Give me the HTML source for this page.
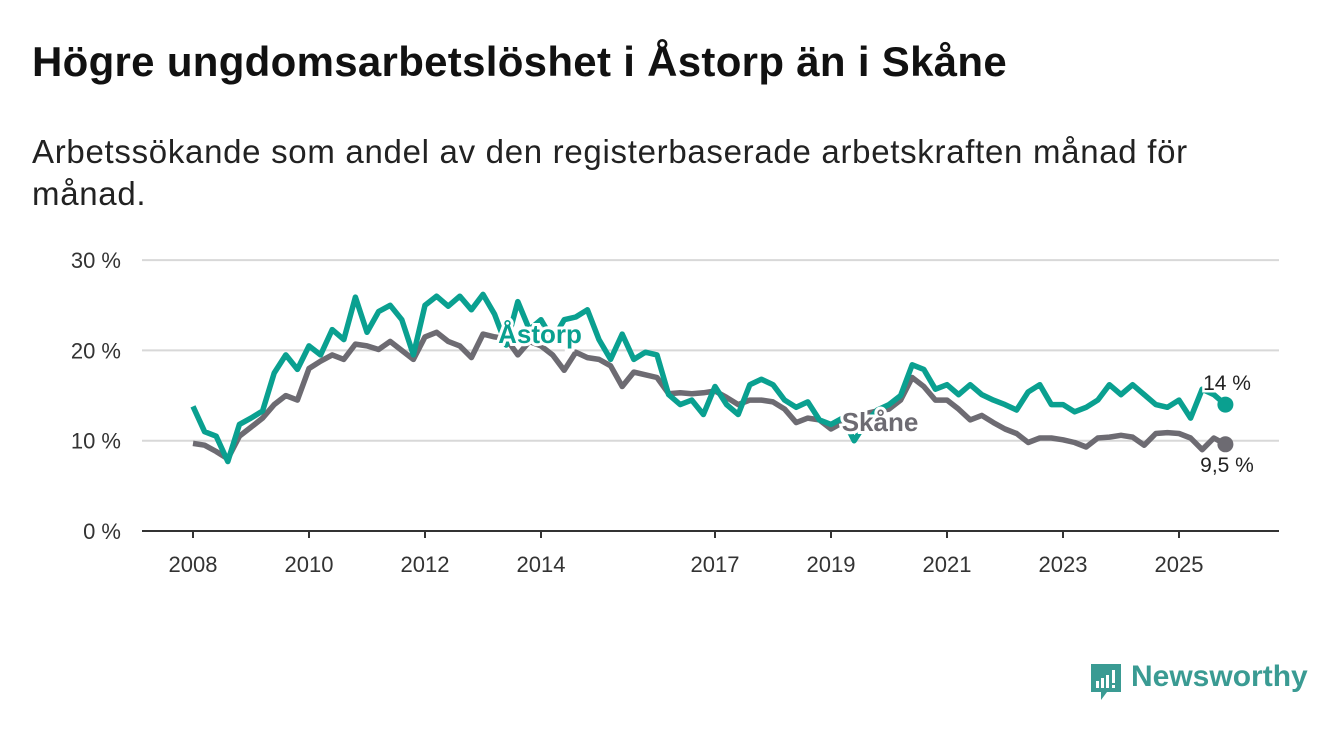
<!DOCTYPE html>
<html><head><meta charset="utf-8">
<style>
body{margin:0;background:#fff;font-family:"Liberation Sans",sans-serif;}
#wrap{position:relative;width:1340px;height:734px;overflow:hidden;}
h1{position:absolute;left:32px;top:38px;margin:0;font-size:42px;font-weight:bold;color:#111;letter-spacing:0.3px;}
.sub{position:absolute;left:32px;top:131px;margin:0;font-size:33px;line-height:42px;color:#222;width:1210px;letter-spacing:0.7px;}
svg{position:absolute;left:0;top:0;}
</style></head><body>
<div id="wrap">
<h1>Högre ungdomsarbetslöshet i Åstorp än i Skåne</h1>
<p class="sub">Arbetssökande som andel av den registerbaserade arbetskraften månad för månad.</p>
<svg id="chart" width="1340" height="734"></svg>
<div style="position:absolute;left:1089px;top:662px;width:230px;height:40px;">
<svg width="36" height="44" style="position:absolute;left:0;top:0">
<path d="M2 2h30v28h-14l-6 8v-8h-10z" fill="#3a9b93"/>
<rect x="7" y="19" width="3" height="7" fill="#fff"/><rect x="12" y="16" width="3" height="10" fill="#fff"/><rect x="17" y="13" width="3" height="13" fill="#fff"/><rect x="23" y="8" width="3" height="13" fill="#fff"/><rect x="23" y="23" width="3" height="3" fill="#fff"/>
</svg>
<span style="position:absolute;left:42px;top:-2px;font-size:30px;color:#3a9b93;font-weight:bold;">Newsworthy</span>
</div>
</div>
<script>
const startYear = 2008;
const stepYears = 0.2;
const astorp = [13.8,11,10.5,7.7,11.8,12.5,13.3,17.5,19.5,17.9,20.5,19.5,22.3,21.2,25.9,22,24.3,25,23.4,19.5,25,26,24.9,26,24.5,26.2,24,20.6,25.4,22.3,23.4,21.2,23.4,23.7,24.5,21.2,19,21.8,19,19.8,19.5,15.1,14,14.5,12.9,16,14,12.9,16.2,16.8,16.2,14.5,13.7,14.3,12.3,11.8,12.5,10,12,13.4,14,15,18.4,17.9,15.7,16.2,15.1,16.2,15.1,14.5,14,13.4,15.4,16.2,14,14,13.2,13.7,14.5,16.2,15.1,16.2,15.1,14,13.7,14.5,12.5,15.7,15.1,14];
const skane = [9.7,9.5,8.8,8.0,10.5,11.5,12.5,14,15,14.5,18,18.8,19.5,19,20.7,20.5,20.1,21,20,19,21.5,22,21,20.5,19.2,21.8,21.5,21.3,19.5,21,20.5,19.5,17.8,19.8,19.2,19,18.3,16,17.6,17.3,17,15.2,15.3,15.2,15.3,15.5,14.8,14,14.5,14.5,14.3,13.5,12,12.5,12.3,11.3,12,12.5,13,13.3,13.5,14.5,17,16,14.5,14.5,13.5,12.3,12.8,12,11.3,10.8,9.8,10.3,10.3,10.1,9.8,9.3,10.3,10.4,10.6,10.4,9.5,10.8,10.9,10.8,10.3,9,10.3,9.6];
const yTicks = [0,10,20,30];
const yTickLabels = ["0 %","10 %","20 %","30 %"];
const xTicks = [2008,2010,2012,2014,2017,2019,2021,2023,2025];

const NS="http://www.w3.org/2000/svg";
const svg=document.getElementById('chart');
const X=yr=>193+(yr-2008)*58;
const Y=v=>531-v*9.03;
function mk(tag,attrs){const e=document.createElementNS(NS,tag);for(const k in attrs)e.setAttribute(k,attrs[k]);svg.appendChild(e);return e;}
yTicks.forEach((t,i)=>{
  const l=mk('line',{x1:142,x2:1279,y1:Y(t),y2:Y(t),stroke:t===0?'#333':'#d8d8d8','stroke-width':2});
  
  
  const tx=mk('text',{x:121,y:Y(t)+8,'text-anchor':'end','font-size':22,fill:'#333','font-family':'Liberation Sans, sans-serif'});
  tx.textContent=yTickLabels[i];
  
  
});
xTicks.forEach(t=>{
  const l=mk('line',{x1:X(t),x2:X(t),y1:531,y2:538,stroke:'#333','stroke-width':2});
  
  
  const tx=mk('text',{x:X(t),y:572,'text-anchor':'middle','font-size':22,fill:'#333','font-family':'Liberation Sans, sans-serif'});
  tx.textContent=t;
  
  
});
function line(arr,color,name){
  const pts=arr.map((v,i)=>X(startYear+i*stepYears).toFixed(1)+','+Y(v).toFixed(1)).join(' ');
  const p=mk('polyline',{points:pts,fill:'none',stroke:color,'stroke-width':5.5,'stroke-linejoin':'round'});
  
  
  const n=arr.length-1;
  const c=mk('circle',{cx:X(startYear+n*stepYears),cy:Y(arr[n]),r:8,fill:color});
  
  
}
line(skane,'#6d6b72','skane-line');
line(astorp,'#0aa090','astorp-line');
function lbl(x,y,txt,col,name,bold,anchor){
  const t=mk('text',{x:x,y:y,'font-size':bold?26:21,'font-weight':bold?'bold':'normal',fill:col,stroke:'#fff','stroke-width':bold?6:5,'paint-order':'stroke','text-anchor':anchor||'start','font-family':'Liberation Sans, sans-serif'});
  t.textContent=txt;
  
  
}
lbl(540,343,'Åstorp','#0aa090','astorp-label',true,'middle');
lbl(880,431,'Skåne','#6d6b72','skane-label',true,'middle');
lbl(1227,390,'14 %','#222','astorp-end-value',false,'middle');
lbl(1227,472,'9,5 %','#222','skane-end-value',false,'middle');
</script>
</body></html>
